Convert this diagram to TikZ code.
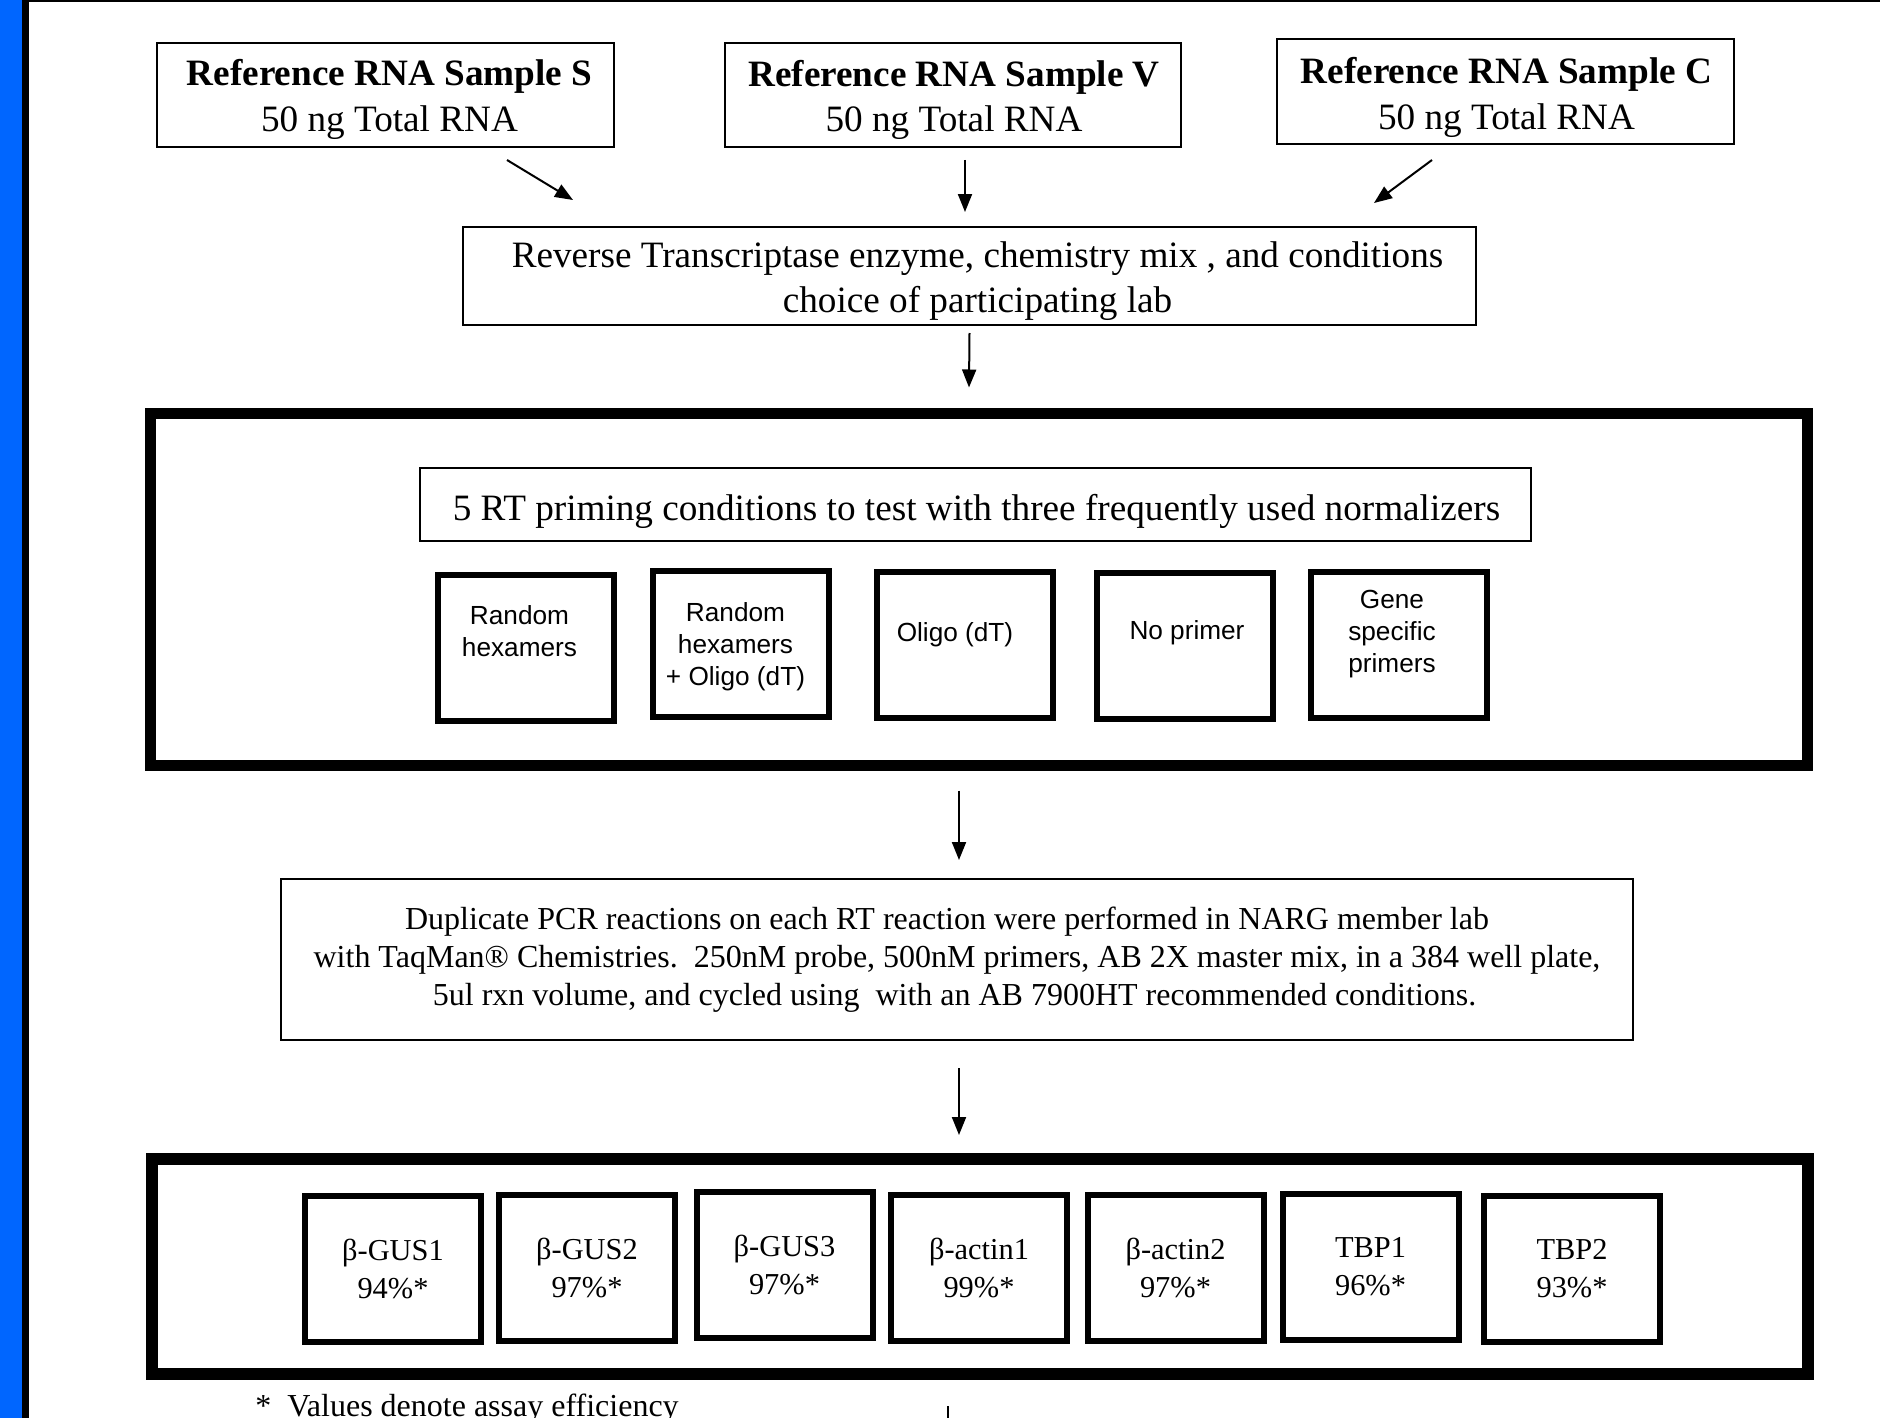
\documentclass[tikz,border=0pt]{standalone}
\usepackage{fontspec}
\setmainfont{Liberation Serif}
\newfontfamily\arialf{Liberation Sans}
\usetikzlibrary{arrows.meta,calc}
\definecolor{barblue}{RGB}{0,102,255}
\begin{document}
\begin{tikzpicture}[x=0.5pt,y=-0.5pt,
  wh/.style 2 args={minimum width=#1*0.5pt, minimum height=#2*0.5pt},
  thinbox/.style={draw, line width=1pt, inner sep=0pt},
  bigbox/.style={draw, line width=5.5pt, inner sep=0pt},
  primerbox/.style={draw, line width=3pt, inner sep=0pt, wh={176}{146}},
  genebox/.style={draw, line width=3pt, inner sep=0pt, align=center,
    wh={176}{146}, font=\fontsize{15.2}{19}\selectfont},
  bigtxt/.style={inner sep=0pt, align=center, font=\fontsize{18.6}{22.75}\selectfont},
  primertxt/.style={inner sep=0pt, align=center, font=\arialf\fontsize{13.1}{16}\selectfont},
  conn/.style={line width=1pt, -{Triangle[length=9pt,width=7pt]}}
]
\useasboundingbox (0,0) rectangle (1880,1418);
\fill[white] (0,0) rectangle (1880,1418);
\fill[barblue] (0,0) rectangle (22,1418);
\fill[black] (22,0) rectangle (29,1418);
\fill[black] (29,0) rectangle (1880,2);

% sample boxes
\node[thinbox, wh={457}{104}] (S) at (385.5,95) {};
\node[bigtxt] (St) at ($(S)+(4,4.5)$) {\textbf{Reference RNA Sample S}\\50 ng Total RNA};
\node[thinbox, wh={456}{104}] (V) at (953,95) {};
\node[bigtxt] (Vt) at ($(V)+(1,5)$) {\textbf{Reference RNA Sample V}\\50 ng Total RNA};
\node[thinbox, wh={457}{105}] (C) at (1505.5,91.5) {};
\node[bigtxt] (Ct) at ($(C)+(1,6)$) {\textbf{Reference RNA Sample C}\\50 ng Total RNA};

% RT box
\node[thinbox, wh={1013}{98}] (RT) at (969.5,276) {};
\node[bigtxt] (RTt) at ($(RT)+(8,5)$) {Reverse Transcriptase enzyme, chemistry mix , and conditions\\choice of participating lab};

% big box 1
\node[bigbox, wh={1657}{352}] (B1) at (978.5,589) {};
\node[thinbox, wh={1111}{73}] (T) at (975.5,504.5) {};
\node[bigtxt] (Tt) at ($(T)+(1,7)$) {5 RT priming conditions to test with three frequently used normalizers};
\node[primerbox] (p1) at (525.5,647.5) {};
\node[primertxt] (p1t) at ($(p1)+(-6,-16.5)$) {Random\\hexamers};
\node[primerbox] (p2) at (740.5,643.5) {};
\node[primertxt] (p2t) at ($(p2)+(-5,3)$) {Random\\hexamers\\+ Oligo (dT)};
\node[primerbox] (p3) at (964.5,644.5) {};
\node[primertxt] (p3t) at ($(p3)+(-9.5,-10.2)$) {Oligo (dT)};
\node[primerbox] (p4) at (1185,646) {};
\node[primertxt] (p4t) at ($(p4)+(2,-12.9)$) {No primer};
\node[primerbox] (p5) at (1399,644.5) {};
\node[primertxt] (p5t) at ($(p5)+(-7,-10.2)$) {Gene\\specific\\primers};

% PCR box
\node[thinbox, align=center, wh={1352}{161}, font=\fontsize{16}{19}\selectfont] (PCR) at (957,959.5)
  {Duplicate PCR reactions on each RT reaction were performed in NARG member lab\hspace*{10pt}\\
   with TaqMan® Chemistries.\ \ 250nM probe, 500nM primers, AB 2X master mix, in a 384 well plate,\hspace*{6pt}\\
   5ul rxn volume, and cycled using\ \ with an AB 7900HT recommended conditions.\hspace*{2.4pt}};

% big box 2
\node[bigbox, line width=6pt, wh={1656}{215}] (B2) at (980,1266.5) {};
\node[genebox] (g1) at (393,1269) {β-GUS1\\94\%*};
\node[genebox] (g2) at (587,1268) {β-GUS2\\97\%*};
\node[genebox] (g3) at (784.5,1265) {β-GUS3\\97\%*};
\node[genebox] (g4) at (979,1267.5) {β-actin1\\99\%*};
\node[genebox] (g5) at (1175.5,1267.5) {β-actin2\\97\%*};
\node[genebox] (g6) at (1370.5,1267) {TBP1\\96\%*};
\node[genebox] (g7) at (1572,1268.5) {TBP2\\93\%*};

\node[anchor=base west, inner sep=0pt, font=\fontsize{16}{19}\selectfont] (note) at (255,1416) {*\ \ Values denote assay efficiency};

% connectors
\draw[conn] ($(S.south)+(121.5,12)$) -- ($(RT.north)+(-396.5,-26)$);
\draw[conn] ($(V.south)+(12,12)$) -- ($(RT.north)+(-4.5,-14)$);
\draw[conn] ($(C.south)+(-73.5,15)$) -- ($(RT.north)+(404.5,-23)$);
\draw[conn] ($(RT.south)+(0,7)$) -- ($(B1.north)+(-9.5,-20)$);
\draw[conn] ($(B1.south)+(-19.5,20)$) -- ($(PCR.north)+(2,-18)$);
\draw[conn] ($(PCR.south)+(2,27)$) -- ($(B2.north)+(-21,-18)$);
\coordinate (cut) at ($(B2.south)+(-32,60)$);
\draw[line width=1pt] ($(B2.south)+(-32,26)$) -- (cut);
\end{tikzpicture}
\end{document}
